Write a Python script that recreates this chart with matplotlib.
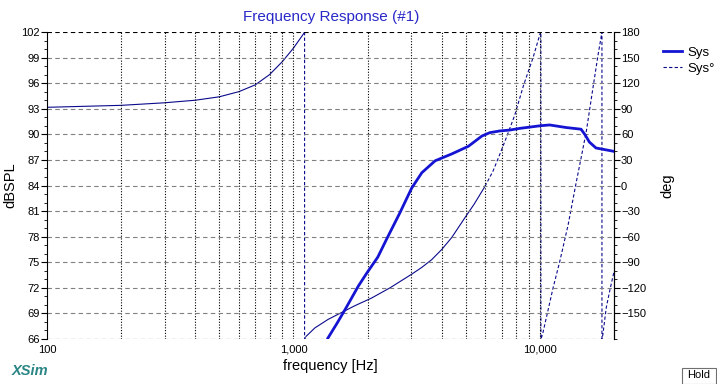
import numpy as np
import matplotlib
matplotlib.use('Agg')
import matplotlib.pyplot as plt
from matplotlib.lines import Line2D
from matplotlib.patches import Rectangle
from matplotlib.ticker import FixedLocator, NullFormatter, MultipleLocator

plt.rcParams['font.family'] = ['Liberation Sans', 'DejaVu Sans']

# Magnitude (Sys), dBSPL
mag_freq = [1380, 1500, 1617, 1834, 1982, 2200, 2388, 2705, 3020, 3320, 3760, 4390, 5130,
            5820, 6270, 6890, 7550, 8300, 10000, 10960, 12770, 14700, 15300, 15880, 16900,
            19200, 20000]
mag_db = [66.1, 67.8, 69.4, 72.2, 73.7, 75.6, 77.7, 80.8, 83.7, 85.5, 86.9, 87.7, 88.6,
          89.8, 90.2, 90.4, 90.5, 90.7, 91.0, 91.1, 90.8, 90.6, 89.9, 89.1, 88.4,
          88.1, 88.0]

# Phase (Sys°), degrees, wrapped
ph_freq = [100, 200, 300, 400, 500, 600, 700, 800, 900, 1000, 1100, 1110,
           1110, 1125, 1222, 1383, 1617, 1775, 2075, 2466, 3020, 3320, 3640, 4000, 4390, 4960,
           5410, 5990, 6460, 6890, 7310, 7900, 8600, 9390, 10000, 10100,
           10100, 10260, 11320, 12050, 13030, 14080, 14700, 15450, 16440, 17250, 17800, 17870,
           17870, 18030, 18610, 19200, 20000]
ph_deg = [91.7, 94, 97, 100, 104, 110, 118, 130, 145, 161, 178, 180,
          -180, -177, -167, -157, -147, -141, -132, -120, -104, -96, -87, -75, -61, -38,
          -22, -1, 17, 37, 56, 82, 118, 150, 177, 180,
          -180, -174.5, -120, -89, -46, 5, 32, 64, 115, 154, 177, 180,
          -180, -174.5, -143, -124, -101]

x_ticks = [100, 1000, 10000]
x_labels = ['100', '1,000', '10,000']

thick = '#1414d2'
thin = '#0a0a8c'

fig = plt.figure(figsize=(7.17, 3.84), dpi=100)
ax = fig.add_axes([47 / 717, 45 / 384, 567 / 717, 307 / 384])
ax2 = ax.twinx()

ax.set_xscale('log')
ax.set_xlim(100, 20000)
ax.set_ylim(66, 102)
ax2.set_ylim(-180, 180)

# grid
minors = [m * 10 ** e for e in (2, 3, 4) for m in range(1, 10) if m * 10 ** e < 20000]
for f in minors:
    if f > 100:
        ax.axvline(f, color='black', lw=0.8, ls=(0, (1, 1.5)), zorder=1)
for y in np.arange(69, 102, 3):
    ax.axhline(y, color='#808080', lw=0.8, ls=(0, (4, 3)), zorder=1)
ax.axhline(66, color='black', lw=0.8, ls=(0, (4, 3)), zorder=1)
ax.axhline(102, color='black', lw=0.8, ls=(0, (4, 3)), zorder=1)

for s in ['top', 'bottom']:
    ax.spines[s].set_visible(False)
    ax2.spines[s].set_visible(False)
ax2.spines['left'].set_visible(False)
ax.spines['left'].set_linewidth(0.8)
ax2.spines['right'].set_linewidth(0.8)

# phase: gentle parts look solid, steep parts dashed
pf = np.array(ph_freq, dtype=float)
pd_ = np.array(ph_deg, dtype=float)
ax2.plot(pf[:12], pd_[:12], color=thin, lw=0.8, zorder=3)
ax2.plot(pf[11:14], pd_[11:14], color=thin, lw=0.8, ls=(0, (3, 2)), zorder=3)
ax2.plot(pf[13:28], pd_[13:28], color=thin, lw=0.8, zorder=3)
ax2.plot(pf[27:], pd_[27:], color=thin, lw=0.8, ls=(0, (3, 2)), zorder=3)

ax.plot(mag_freq, mag_db, color=thick, lw=2.0, zorder=4)
ax.set_zorder(ax2.get_zorder() + 1)
ax.patch.set_visible(False)

# ticks
ax.xaxis.set_major_locator(FixedLocator(x_ticks))
ax.set_xticklabels(x_labels)
ax.xaxis.set_minor_formatter(NullFormatter())
ax.tick_params(axis='x', which='both', length=0, labelsize=8, pad=4)
ax.set_yticks(np.arange(66, 103, 3))
ax.yaxis.set_minor_locator(MultipleLocator(1))
ax.tick_params(axis='y', which='major', length=4, width=0.8, labelsize=8, pad=1)
ax.tick_params(axis='y', which='minor', length=2, width=0.6)
ax2.set_yticks(np.arange(-150, 181, 30))
ax2.yaxis.set_minor_locator(MultipleLocator(10))
ax2.tick_params(axis='y', which='major', length=4, width=0.8, labelsize=8, pad=1)
ax2.tick_params(axis='y', which='minor', length=2, width=0.6)

ax.set_ylabel('dBSPL', fontsize=10.5, labelpad=3)
ax2.set_ylabel('deg', fontsize=10.5, rotation=90, labelpad=10)
ax.set_xlabel('frequency [Hz]', fontsize=10.5, labelpad=3)
fig.text(331 / 717, 1 - 17 / 384, 'Frequency Response (#1)', ha='center', va='center',
         fontsize=11, color='#2828c8')

handles = [Line2D([], [], color=thick, lw=2.0),
           Line2D([], [], color=thin, lw=0.8, ls=(0, (3, 2)))]
fig.legend(handles, ['Sys', 'Sys°'], loc='upper left', bbox_to_anchor=(656 / 717, 1 - 40 / 384),
           frameon=False, fontsize=9.5, handlelength=1.5, handletextpad=0.4,
           labelspacing=0.3, borderpad=0)

fig.text(12 / 717, 1 - 371 / 384, 'XSim', ha='left', va='center', fontsize=10.5,
         fontstyle='italic', fontweight='bold', color='#2a8585')
fig.patches.append(Rectangle((682 / 717, 0.5 / 384), 34 / 717, 16 / 384, transform=fig.transFigure,
                             facecolor='white', edgecolor='#707070', lw=0.8))
fig.text(699 / 717, 8.5 / 384, 'Hold', ha='center', va='center', fontsize=8)

fig.savefig('out.png', dpi=100)
